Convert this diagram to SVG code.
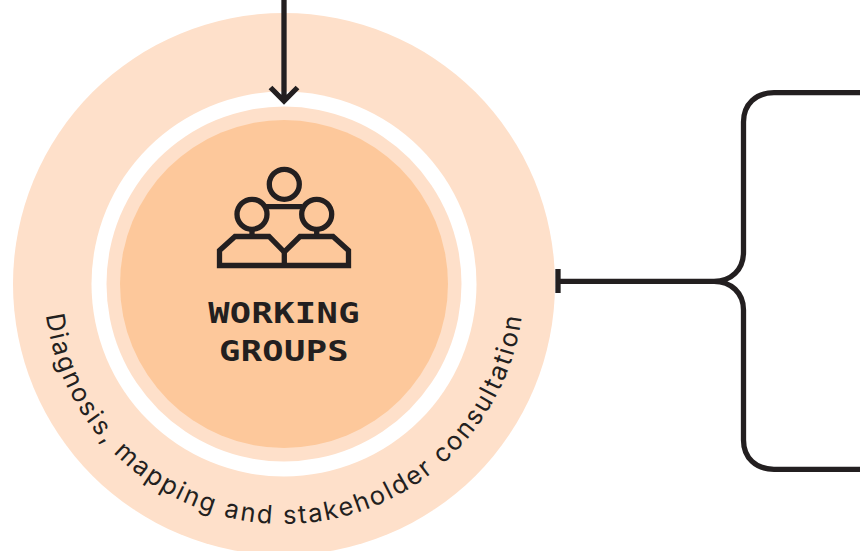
<svg xmlns="http://www.w3.org/2000/svg" width="863" height="551" viewBox="0 0 863 551">
<style>
.ln{fill:none;stroke:#231f20;stroke-width:5.3}
.title{font-family:"DejaVu Sans Mono",monospace;font-weight:700;font-size:29px;letter-spacing:0.3px;fill:#231f20;text-anchor:middle}
.curve{font-family:"Inter","Liberation Sans",sans-serif;font-size:25.5px;letter-spacing:2.1px;fill:#231f20;text-anchor:middle}
</style>
<defs><path id="arc" d="M44 284A240 240 0 0 0 524 284"/></defs>
<rect width="863" height="551" fill="#fff"/>
<g id="outer-ring">
<circle cx="284" cy="284" r="271" fill="#fee0ca"/>
<circle cx="284" cy="284" r="192.5" fill="#fff"/>
<text class="curve"><textPath href="#arc" startOffset="50%">Diagnosis, mapping and stakeholder consultation</textPath></text>
</g>
<g id="working-groups">
<circle cx="284" cy="284" r="177.5" fill="#fee0ca"/>
<circle cx="284" cy="284" r="164" fill="#fdc89b"/>
<g class="ln">
<circle cx="284.3" cy="184.3" r="15"/>
<circle cx="252" cy="214.3" r="15"/>
<circle cx="316.7" cy="214.3" r="15"/>
<path d="M266 206.7H302M252 229V236.5M316.7 229V236.5M284.3 251V266"/>
<path d="M219.5 265.5V250.5L235 236.5H269L284.3 252L300 236.5H333L348.5 250.5V265.5Z"/>
</g>
<text class="title" transform="translate(284 322.7) scale(1.22 1)">WORKING</text>
<text class="title" transform="translate(284 360.7) scale(1.22 1)">GROUPS</text>
</g>
<g id="connectors">
<path class="ln" d="M284 0V102M270.5 87.5L284 101L297.5 87.5"/>
<path class="ln" d="M558 269V293M558 281.3H714C731 281.3 743.5 270 743.5 252V122C743.5 104 756 92.7 774 92.7H860M714 281.3C731 281.3 743.5 293 743.5 310V440C743.5 458 756 469.3 774 469.3H860"/>
</g>
</svg>
